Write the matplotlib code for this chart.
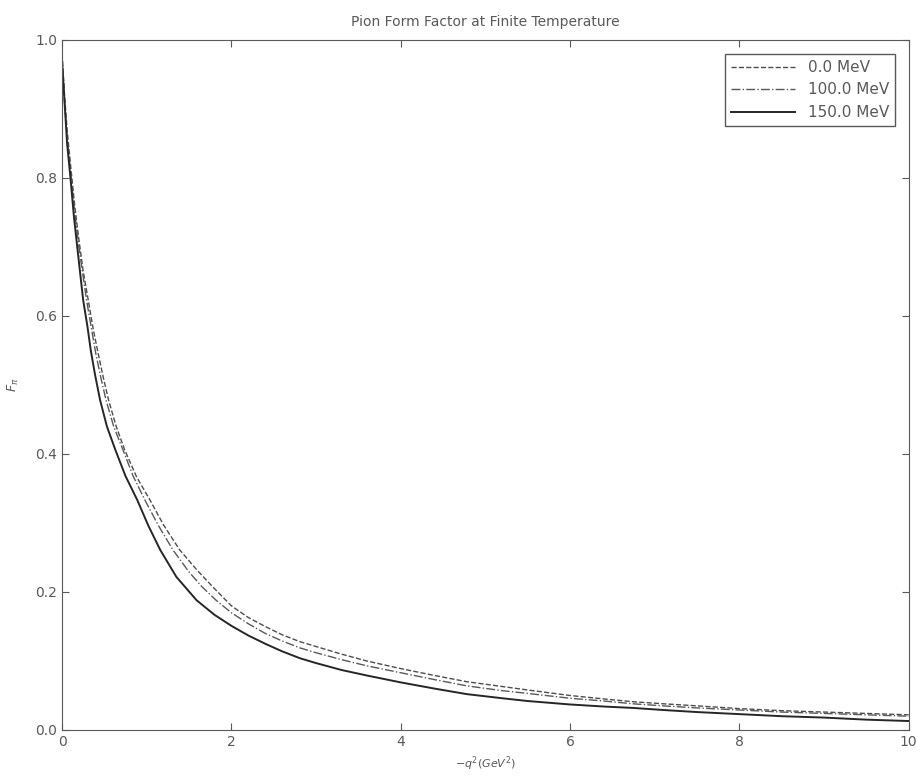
import numpy as np
import matplotlib
matplotlib.use('Agg')
import matplotlib.pyplot as plt

# values, -q^2 in GeV^2
q2_0 = [0.0, 0.03, 0.06, 0.1, 0.15, 0.2, 0.25, 0.31, 0.37, 0.42, 0.48, 0.55, 0.64, 0.74, 0.88, 1.04, 1.2, 1.39, 1.6, 1.8, 2.0, 2.2, 2.4, 2.6, 2.81, 3.0, 3.3, 3.6, 4.0, 4.4, 4.78, 5.2, 5.5, 6.0, 6.4, 6.74, 7.1, 7.5, 8.0, 8.5, 9.0, 9.5, 10.0]
ff_0 = [0.98, 0.92, 0.87, 0.82, 0.76, 0.71, 0.665, 0.623, 0.58, 0.55, 0.515, 0.478, 0.44, 0.406, 0.367, 0.333, 0.297, 0.261, 0.231, 0.205, 0.180, 0.163, 0.150, 0.138, 0.128, 0.121, 0.110, 0.100, 0.089, 0.079, 0.070, 0.063, 0.058, 0.050, 0.045, 0.041, 0.038, 0.035, 0.031, 0.028, 0.026, 0.024, 0.022]

q2_100 = [0.0, 0.03, 0.06, 0.1, 0.15, 0.2, 0.24, 0.29, 0.35, 0.4, 0.46, 0.52, 0.61, 0.72, 0.84, 0.98, 1.14, 1.31, 1.5, 1.65, 1.82, 2.0, 2.2, 2.4, 2.6, 2.81, 3.0, 3.3, 3.6, 4.0, 4.4, 4.78, 5.2, 5.5, 6.0, 6.4, 6.74, 7.1, 7.5, 8.0, 8.5, 9.0, 9.5, 10.0]
ff_100 = [0.98, 0.91, 0.86, 0.81, 0.75, 0.70, 0.665, 0.623, 0.58, 0.545, 0.51, 0.478, 0.44, 0.406, 0.368, 0.333, 0.296, 0.261, 0.229, 0.208, 0.188, 0.170, 0.154, 0.140, 0.129, 0.119, 0.112, 0.102, 0.093, 0.083, 0.073, 0.064, 0.057, 0.053, 0.046, 0.042, 0.038, 0.035, 0.032, 0.029, 0.026, 0.024, 0.022, 0.020]

q2_150 = [0.0, 0.03, 0.06, 0.1, 0.14, 0.18, 0.25, 0.3, 0.34, 0.39, 0.45, 0.53, 0.63, 0.75, 0.89, 1.02, 1.16, 1.35, 1.59, 1.8, 2.0, 2.2, 2.4, 2.6, 2.81, 3.0, 3.3, 3.6, 4.0, 4.4, 4.78, 5.2, 5.5, 6.0, 6.4, 6.74, 7.1, 7.5, 8.0, 8.5, 9.0, 9.5, 10.0]
ff_150 = [0.97, 0.91, 0.85, 0.80, 0.745, 0.70, 0.623, 0.585, 0.55, 0.515, 0.478, 0.44, 0.406, 0.368, 0.333, 0.296, 0.261, 0.222, 0.188, 0.167, 0.151, 0.137, 0.125, 0.114, 0.104, 0.097, 0.087, 0.079, 0.069, 0.060, 0.052, 0.046, 0.042, 0.037, 0.034, 0.032, 0.029, 0.026, 0.023, 0.020, 0.018, 0.015, 0.013]

temps = ['0.0 MeV', '100.0 MeV', '150.0 MeV']

plt.rcParams['font.family'] = 'DejaVu Sans'
plt.rcParams['xtick.direction'] = 'in'
plt.rcParams['ytick.direction'] = 'in'
plt.rcParams['xtick.top'] = True
plt.rcParams['ytick.right'] = True

fig = plt.figure(figsize=(9.16, 7.78), dpi=100)
ax = fig.add_axes([0.0677, 0.0617, 0.9243, 0.8869])

ax.plot(q2_0, ff_0, '--', lw=1.0, color='0.3', label=temps[0])
ax.plot(q2_100, ff_100, '-.', lw=1.0, color='0.35', label=temps[1])
ax.plot(q2_150, ff_150, '-', lw=1.4, color='0.15', label=temps[2])

ax.set_xlim(0, 10)
ax.set_ylim(0, 1.0)
ax.set_xticks([0, 2, 4, 6, 8, 10])
ax.set_yticks([0.0, 0.2, 0.4, 0.6, 0.8, 1.0])
ax.set_yticklabels(['0.0', '0.2', '0.4', '0.6', '0.8', '1.0'])
ax.tick_params(labelsize=10, colors='0.35', length=5, width=0.8)
for sp in ax.spines.values():
    sp.set_color('0.35')

ax.set_title('Pion Form Factor at Finite Temperature', fontsize=10, color='0.35', pad=10)
ax.set_xlabel(r'$-q^2 (GeV^2)$', fontsize=8, color='0.35', labelpad=4)
ax.set_ylabel(r'$F_\pi$', fontsize=9, color='0.35', labelpad=10)

leg = ax.legend(loc='upper right', fontsize=11, fancybox=False, framealpha=1,
                handlelength=4.2, borderaxespad=0.9, labelcolor='0.35')
leg.get_frame().set_edgecolor('0.35')

fig.savefig('out.png', dpi=100, facecolor='white')
